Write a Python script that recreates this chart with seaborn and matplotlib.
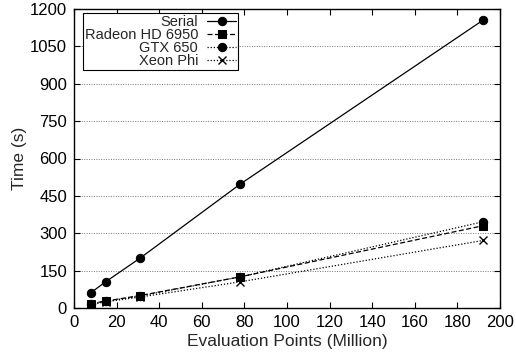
import matplotlib
matplotlib.use("Agg")
import matplotlib.pyplot as plt
import seaborn as sns
import pandas as pd

x_points = [8, 15, 31, 78, 192]
serial = [62, 106, 200, 497, 1155]
radeon = [18, 28, 50, 125, 330]
gtx = [16, 27, 48, 125, 346]
xeon = [14, 25, 44, 105, 271]
series_names = ["Serial", "Radeon HD 6950", "GTX 650", "Xeon Phi"]
y_ticks = [0, 150, 300, 450, 600, 750, 900, 1050, 1200]
x_ticks = [0, 20, 40, 60, 80, 100, 120, 140, 160, 180, 200]

sns.set_style("ticks")
plt.rcParams['font.family'] = ['Liberation Sans', 'DejaVu Sans']

fig = plt.figure(figsize=(5.16, 3.59), dpi=100)
ax = fig.add_axes([74/516, 51/359, 426/516, 299/359])

styles = [
    dict(marker="o", linestyle="-"),
    dict(marker="s", linestyle=(0, (4, 2))),
    dict(marker="o", linestyle=(0, (1, 1.5))),
    dict(marker="x", linestyle=(0, (1, 1.5)), markeredgewidth=1.0),
]
for name, vals, st in zip(series_names, [serial, radeon, gtx, xeon], styles):
    d = pd.DataFrame({"x": x_points, "y": vals})
    sns.lineplot(data=d, x="x", y="y", color="black", markersize=6,
                 markeredgecolor="black", linewidth=0.9, ax=ax, label=name, **st)

ax.set_xlim(0, 200)
ax.set_ylim(0, 1200)
ax.set_xticks(x_ticks)
ax.set_yticks(y_ticks)
ax.tick_params(direction="in", top=True, right=True, length=4, width=0.8, labelsize=12, colors="black", pad=5)
ax.set_xlabel("Evaluation Points (Million)", fontsize=12.5, labelpad=3)
ax.set_ylabel("Time (s)", fontsize=12.5, labelpad=2)
for s in ax.spines.values():
    s.set_linewidth(1.0)
    s.set_color("black")
ax.yaxis.grid(True, linestyle=(0, (1, 1.5)), color="#777777", linewidth=0.7)
ax.set_axisbelow(True)

handles, labels = ax.get_legend_handles_labels()
leg = ax.legend(handles, labels, loc="upper left", bbox_to_anchor=(0.021, 0.987),
                markerfirst=False, fontsize=10.5, frameon=True, fancybox=False,
                edgecolor="black", framealpha=1, handlelength=2.0,
                borderpad=0.12, labelspacing=-0.05, handletextpad=0.6, borderaxespad=0)
leg.get_frame().set_linewidth(0.8)

fig.savefig("out.png", dpi=100)
